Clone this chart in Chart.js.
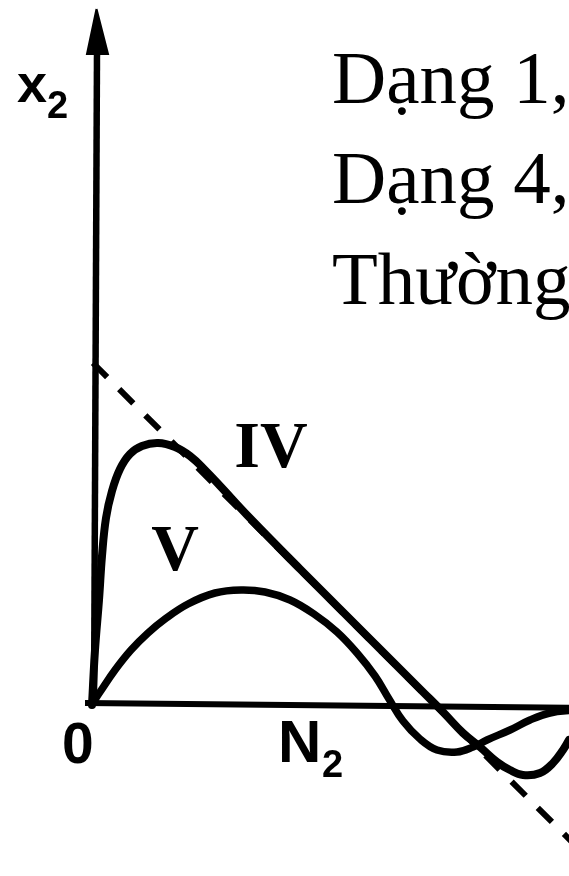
<!DOCTYPE html>
<html>
<head>
<meta charset="utf-8">
<script src="https://cdn.jsdelivr.net/npm/chart.js@4/dist/chart.umd.min.js"></script>
<style>
  html, body { margin: 0; padding: 0; background: #fff; overflow: hidden; }
  #wrap { width: 569px; height: 876px; }
</style>
</head>
<body>
<div id="wrap"><canvas id="c" width="569" height="876"></canvas></div>
<script>
// Phase diagram x2 vs N2: curves IV and V with the dashed limiting line.
const headerLines = ['Dạng 1,', 'Dạng 4,', 'Thường'];

// Curve IV: steep rise, then runs along the limiting line, overshoots below zero
const ivX = [0, 0.03, 0.07, 0.10, 0.14, 0.20, 0.28, 0.38, 0.50, 0.66, 0.83, 0.98, 1.13, 1.30, 1.55, 2.08, 2.88, 3.30, 3.51, 3.71, 3.88, 4.05, 4.18, 4.31, 4.48, 4.61, 4.71, 4.77, 4.86];
const ivY = [0.01, 0.56, 1.06, 1.50, 1.88, 2.15, 2.37, 2.52, 2.60, 2.63, 2.59, 2.50, 2.36, 2.18, 1.91, 1.37, 0.57, 0.15, -0.06, -0.27, -0.41, -0.56, -0.64, -0.69, -0.67, -0.57, -0.44, -0.34, -0.16];

// Curve V: gentle hump, then a shallow dip below zero
const vX = [0, 0.08, 0.23, 0.39, 0.56, 0.73, 0.96, 1.23, 1.49, 1.73, 1.98, 2.22, 2.45, 2.65, 2.83, 2.97, 3.11, 3.28, 3.45, 3.65, 3.81, 3.95, 4.18, 4.38, 4.58, 4.83];
const vY = [0.02, 0.14, 0.36, 0.56, 0.73, 0.87, 1.02, 1.13, 1.16, 1.14, 1.06, 0.92, 0.74, 0.53, 0.30, 0.07, -0.15, -0.33, -0.44, -0.46, -0.41, -0.34, -0.24, -0.14, -0.07, -0.04];

// Dashed limiting line (slope -1)
const guideX = [0.01, 4.90];
const guideY = [3.43, -1.46];

// Axes and arrow head
const xAxisX = [-0.07, 4.90];
const xAxisY = [0.03, -0.02];
const yAxisX = [0.02, 0.05];
const yAxisY = [0, 6.55];
const arrowX = [0.045, -0.05, 0.16, 0.045];
const arrowY = [6.97, 6.52, 6.52, 6.97];

const pts = (xs, ys) => xs.map((x, i) => ({ x: x, y: ys[i] }));

// Text placed in data coordinates
const textItems = [
  { text: headerLines[0], x: 2.40, y: 6.03, font: '75px "Liberation Serif"', align: 'left' },
  { text: headerLines[1], x: 2.40, y: 5.03, font: '75px "Liberation Serif"', align: 'left' },
  { text: headerLines[2], x: 2.40, y: 4.02, font: '75px "Liberation Serif"', align: 'left' },
  { text: 'x', x: -0.75, y: 6.04, font: 'bold 54px "Liberation Sans"', align: 'left' },
  { text: '2', x: -0.45, y: 5.88, font: 'bold 38px "Liberation Sans"', align: 'left' },
  { text: '0', x: -0.30, y: -0.57, font: 'bold 57px "Liberation Sans"', align: 'left' },
  { text: 'N', x: 1.86, y: -0.56, font: 'bold 60px "Liberation Sans"', align: 'left' },
  { text: '2', x: 2.30, y: -0.71, font: 'bold 38px "Liberation Sans"', align: 'left' },
  { text: 'IV', x: 1.79, y: 2.39, font: 'bold 66px "Liberation Serif"', align: 'center' },
  { text: 'V', x: 0.83, y: 1.36, font: 'bold 66px "Liberation Serif"', align: 'center' }
];

const textPlugin = {
  id: 'diagramText',
  afterDatasetsDraw(chart) {
    const ctx = chart.ctx;
    const sx = chart.scales.x, sy = chart.scales.y;
    ctx.save();
    ctx.fillStyle = '#000';
    ctx.textBaseline = 'alphabetic';
    textItems.forEach(t => {
      ctx.font = t.font;
      ctx.textAlign = t.align;
      ctx.fillText(t.text, sx.getPixelForValue(t.x), sy.getPixelForValue(t.y));
    });
    ctx.restore();
  }
};

const lineBase = { showLine: true, pointRadius: 0, borderColor: '#000', backgroundColor: '#000', fill: false };

new Chart(document.getElementById('c'), {
  type: 'scatter',
  data: {
    datasets: [
      Object.assign({}, lineBase, { label: 'guide', data: pts(guideX, guideY), borderWidth: 6, borderDash: [20, 17] }),
      Object.assign({}, lineBase, { label: 'x axis', data: pts(xAxisX, xAxisY), borderWidth: 6 }),
      Object.assign({}, lineBase, { label: 'y axis', data: pts(yAxisX, yAxisY), borderWidth: 6.5 }),
      Object.assign({}, lineBase, { label: 'arrow', data: pts(arrowX, arrowY), borderWidth: 2, fill: 'shape' }),
      Object.assign({}, lineBase, { label: 'V', data: pts(vX, vY), borderWidth: 7.5, tension: 0.4, borderCapStyle: 'round', borderJoinStyle: 'round' }),
      Object.assign({}, lineBase, { label: 'IV', data: pts(ivX, ivY), borderWidth: 8, tension: 0.4, borderCapStyle: 'round', borderJoinStyle: 'round' })
    ]
  },
  options: {
    responsive: false,
    animation: false,
    events: [],
    layout: { padding: 0 },
    plugins: { legend: { display: false }, tooltip: { enabled: false }, title: { display: false } },
    scales: {
      x: { type: 'linear', min: -0.92, max: 4.77, display: false },
      y: { type: 'linear', min: -1.70, max: 7.06, display: false }
    }
  },
  plugins: [textPlugin]
});
</script>
</body>
</html>
